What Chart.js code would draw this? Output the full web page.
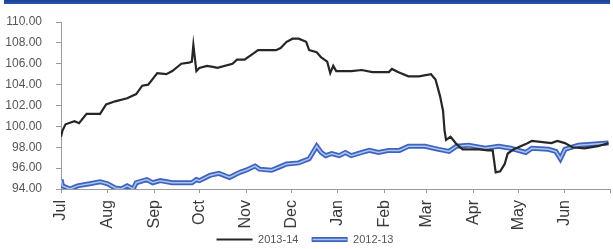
<!DOCTYPE html>
<html lang="en">

<head>
    <meta charset="UTF-8">
    <title>2013-14 vs 2012-13</title>
    <script src="https://cdn.jsdelivr.net/npm/chart.js"></script>
    <style>
        body {
            margin: 0;
            background: #ffffff;
            font-family: 'Liberation Sans', Arial, sans-serif;
        }

        .top-band {
            position: absolute;
            left: 4px;
            top: 0;
            width: 606px;
            height: 4px;
            background: linear-gradient(#1b3f93, #2a55b0);
        }

        #wrap {
            position: relative;
            width: 613px;
            height: 249px;
        }
    </style>
</head>

<body>
    <div id="wrap">
        <div class="top-band"></div>
        <canvas id="priceChart" width="613" height="249"></canvas>
    </div>

    <script>
        // month labels and the day (from 1 Jul) each month starts on
        const months = ['Jul', 'Aug', 'Sep', 'Oct', 'Nov', 'Dec', 'Jan', 'Feb', 'Mar', 'Apr', 'May', 'Jun'];
        const monthStartDays = [0, 31, 62, 92, 123, 153, 184, 215, 243, 274, 304, 335, 365];
        const yTicks = [94, 96, 98, 100, 102, 104, 106, 108, 110];

        // 2013-14 series
        const days1314 = [0, 1, 3, 9, 12, 17, 26, 30, 36, 44, 50, 54, 58, 64, 70, 74, 80, 85, 87, 88, 90, 92, 97, 101, 104,
            114, 117, 122, 128, 131, 143, 146, 150, 154, 158, 163, 165, 170, 173, 177, 179, 181, 183, 193, 200, 207, 218,
            220, 224, 231, 238, 246, 249, 252, 254, 255, 256, 259, 263, 267, 278, 284, 287, 289, 292, 295, 297, 301, 309,
            313, 326, 330, 335, 340, 348, 357, 364];
        const values1314 = [99.0, 99.6, 100.2, 100.5, 100.3, 101.2, 101.2, 102.1, 102.4, 102.7, 103.1, 103.9, 104.0, 105.1,
            105.0, 105.3, 106.0, 106.1, 106.2, 107.8, 105.3, 105.6, 105.8, 105.7, 105.6,
            106.0, 106.4, 106.4, 107.0, 107.3, 107.3, 107.5, 108.1, 108.4, 108.4, 108.1, 107.3, 107.1, 106.6, 106.2,
            105.1, 105.8, 105.3, 105.3, 105.4, 105.2, 105.2,
            105.5, 105.2, 104.8, 104.8, 105.0, 104.5, 102.9, 101.5, 99.6, 98.7, 99.0, 98.3, 97.8, 97.8, 97.7, 97.7,
            95.6, 95.7, 96.4, 97.4, 97.8, 98.3, 98.6, 98.4, 98.6, 98.4, 98.0, 97.9, 98.1, 98.4];

        // 2012-13 series
        const days1213 = [0, 1, 6, 11, 19, 26, 31, 36, 40, 44, 48, 50, 57, 61, 66, 74, 87, 90, 92, 99, 105, 112, 119, 123,
            129, 132, 140, 145, 150, 158, 165, 170, 173, 176, 180, 185, 189, 193, 200, 205, 211, 218, 225, 231, 242, 251,
            258, 263, 271, 282, 291, 299, 309, 313, 324, 329, 332, 335, 344, 364];
        const values1213 = [94.9, 94.3, 94.0, 94.3, 94.5, 94.7, 94.5, 94.1, 94.0, 94.3, 94.0, 94.6, 94.9, 94.6, 94.8, 94.6,
            94.6, 94.9, 94.8, 95.3, 95.5, 95.1, 95.6, 95.8,
            96.2, 95.9, 95.8, 96.1, 96.4, 96.5, 96.9, 98.1, 97.5, 97.2, 97.4, 97.2, 97.5, 97.2, 97.5, 97.7, 97.5, 97.7,
            97.7, 98.1, 98.1, 97.8,
            97.6, 98.1, 98.2, 97.9, 98.1, 97.9, 97.5, 97.9, 97.8, 97.6, 96.9, 97.8, 98.2, 98.4];

        function toPoints(days, values) {
            return days.map((d, i) => ({ x: d, y: values[i] }));
        }

        // light core drawn over the blue line in the legend too
        const legendCorePlugin = {
            id: 'legendCore',
            afterDraw(chart) {
                const legend = chart.legend;
                if (!legend || !legend.legendHitBoxes || legend.legendHitBoxes.length < 2) return;
                const box = legend.legendHitBoxes[1];
                const ctx = chart.ctx;
                const y = box.top + box.height / 2;
                ctx.save();
                ctx.strokeStyle = '#a9c6f0';
                ctx.lineWidth = 1.5;
                ctx.beginPath();
                ctx.moveTo(box.left + 1, y);
                ctx.lineTo(box.left + 35, y);
                ctx.stroke();
                ctx.restore();
            }
        };

        const ctx = document.getElementById('priceChart').getContext('2d');
        new Chart(ctx, {
            type: 'line',
            data: {
                datasets: [
                    {
                        label: '2013-14',
                        data: toPoints(days1314, values1314),
                        borderColor: '#262626',
                        borderWidth: 2.2,
                        pointRadius: 0,
                        tension: 0,
                        order: 0
                    },
                    {
                        label: '2012-13',
                        data: toPoints(days1213, values1213),
                        borderColor: '#3f62bd',
                        borderWidth: 5,
                        pointRadius: 0,
                        tension: 0,
                        order: 2
                    },
                    {
                        label: 'core',
                        data: toPoints(days1213, values1213),
                        borderColor: '#a9c6f0',
                        borderWidth: 1.5,
                        pointRadius: 0,
                        tension: 0,
                        order: 1
                    }
                ]
            },
            options: {
                responsive: false,
                animation: false,
                layout: { padding: { top: 22, right: 3, left: 0, bottom: -6 } },
                scales: {
                    x: {
                        type: 'linear',
                        min: 0,
                        max: 365,
                        afterBuildTicks: scale => {
                            scale.ticks = monthStartDays.map(v => ({ value: v }));
                        },
                        afterFit: scale => {
                            scale.height = 44;
                            scale.paddingLeft = 0;
                            scale.paddingRight = 0;
                        },
                        border: { color: '#9a9a9a' },
                        grid: { display: true, drawOnChartArea: false, drawTicks: true, tickLength: 4, color: '#9a9a9a' },
                        ticks: {
                            autoSkip: false,
                            minRotation: 90,
                            maxRotation: 90,
                            padding: 7,
                            color: '#3a3a3a',
                            font: { size: 16, family: "'Liberation Sans', Arial, sans-serif" },
                            callback: (value) => {
                                const i = monthStartDays.indexOf(value);
                                return i >= 0 && i < months.length ? months[i] : '';
                            }
                        }
                    },
                    y: {
                        min: 94,
                        max: 110,
                        afterBuildTicks: scale => {
                            scale.ticks = yTicks.map(v => ({ value: v }));
                        },
                        afterFit: scale => {
                            scale.width = 61;
                            scale.paddingTop = 0;
                            scale.paddingBottom = 0;
                        },
                        border: { color: '#9a9a9a' },
                        grid: { display: true, drawOnChartArea: false, drawTicks: true, tickLength: 5, color: '#9a9a9a' },
                        ticks: {
                            padding: 14,
                            color: '#555555',
                            font: { size: 12, family: "'Liberation Sans', Arial, sans-serif" },
                            callback: value => value.toFixed(2)
                        }
                    }
                },
                plugins: {
                    legend: {
                        display: true,
                        position: 'bottom',
                        labels: {
                            usePointStyle: true,
                            pointStyle: 'line',
                            pointStyleWidth: 36,
                            boxHeight: 10,
                            padding: 1,
                            color: '#555555',
                            font: { size: 11, family: "'Liberation Sans', Arial, sans-serif" },
                            filter: item => item.text !== 'core',
                            generateLabels: chart => {
                                const items = Chart.defaults.plugins.legend.labels.generateLabels(chart);
                                // leave a gap after the first entry
                                items.forEach((item, i) => { if (i === 0) item.text = item.text + '    '; });
                                return items;
                            }
                        }
                    },
                    tooltip: { enabled: false }
                }
            },
            plugins: [legendCorePlugin]
        });
    </script>
</body>

</html>
